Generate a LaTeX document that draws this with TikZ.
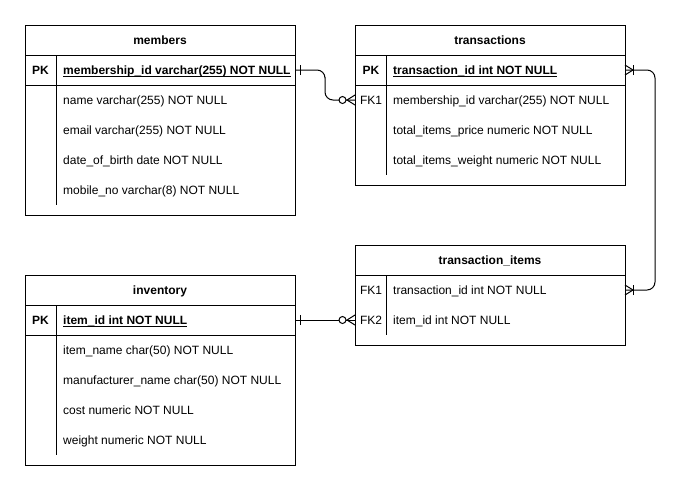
\documentclass[tikz,border=0pt]{standalone}
\usepackage{fontspec}
\setmainfont{Liberation Sans}
\usetikzlibrary{calc}
\begin{document}
\begin{tikzpicture}[x=1pt,y=-1pt,
  tbl/.style={draw, line width=1pt, fill=white, inner sep=0pt, outer sep=0pt},
  rowbox/.style={inner sep=0pt, outer sep=0pt, minimum height=30pt, minimum width=270pt},
  ttl/.style={font=\fontsize{12}{14}\selectfont\bfseries, inner sep=0pt, text height=8.6pt, text depth=0pt},
  keylbl/.style={font=\fontsize{12}{14}\selectfont, inner sep=0pt, text height=8.6pt, text depth=0pt},
  keybold/.style={keylbl, font=\fontsize{12}{14}\selectfont\bfseries},
  fld/.style={font=\fontsize{12}{14}\selectfont, anchor=west, inner sep=0pt, text height=8.6pt, text depth=0pt},
  fldpk/.style={fld, font=\fontsize{12}{14}\selectfont\bfseries},
  sep/.style={line width=1pt},
  conn/.style={line width=1pt, rounded corners=8pt},
  mk/.style={line width=1pt}]
\useasboundingbox[fill=white] (0,0) rectangle (690,491);

% ---------- members ----------
\node[tbl, minimum width=270pt, minimum height=190pt] (members) at (160,120) {};
\draw[sep] (25,55) -- (295,55);
\draw[sep] (25,85) -- (295,85);
\draw[sep] (56,55) -- (56,205);
\node[ttl] (mtitle) at (160,40) {members};
\node[keybold] (mpkl) at (40.5,70) {PK};
\node[fldpk] (mpkf) at (63,70) {membership\_id varchar(255) NOT NULL};
\draw[line width=0.8pt] ([yshift=-1.6pt]mpkf.south west) -- ([yshift=-1.6pt]mpkf.south east);
\node[fld] (mf1) at (63,100) {name varchar(255) NOT NULL};
\node[fld] (mf2) at (63,130) {email varchar(255) NOT NULL};
\node[fld] (mf3) at (63,160) {date\_of\_birth date NOT NULL};
\node[fld] (mf4) at (63,190) {mobile\_no varchar(8) NOT NULL};
\node[rowbox] (mpk) at (160,70) {};

% ---------- transactions ----------
\node[tbl, minimum width=270pt, minimum height=160pt] (transactions) at (490,105) {};
\draw[sep] (355,55) -- (625,55);
\draw[sep] (355,85) -- (625,85);
\draw[sep] (386,55) -- (386,175);
\node[ttl] (ttitle) at (490,40) {transactions};
\node[keybold] (tpkl) at (371,70) {PK};
\node[fldpk] (tpkf) at (393,70) {transaction\_id int NOT NULL};
\draw[line width=0.8pt] ([yshift=-1.6pt]tpkf.south west) -- ([yshift=-1.6pt]tpkf.south east);
\node[keylbl] (tfk1l) at (371,100) {FK1};
\node[fld] (tf1) at (393,100) {membership\_id varchar(255) NOT NULL};
\node[fld] (tf2) at (393,130) {total\_items\_price numeric NOT NULL};
\node[fld] (tf3) at (393,160) {total\_items\_weight numeric NOT NULL};
\node[rowbox] (tpk) at (490,70) {};
\node[rowbox] (tfk1) at (490,100) {};

% ---------- transaction_items ----------
\node[tbl, minimum width=270pt, minimum height=100pt] (titems) at (490,295) {};
\draw[sep] (355,275) -- (625,275);
\draw[sep] (386,275) -- (386,335);
\node[ttl] (tititle) at (490,260) {transaction\_items};
\node[keylbl] (tifk1l) at (371,290) {FK1};
\node[fld] (tif1) at (393,290) {transaction\_id int NOT NULL};
\node[keylbl] (tifk2l) at (371,320) {FK2};
\node[fld] (tif2) at (393,320) {item\_id int NOT NULL};
\node[rowbox] (tifk1) at (490,290) {};
\node[rowbox] (tifk2) at (490,320) {};

% ---------- inventory ----------
\node[tbl, minimum width=270pt, minimum height=190pt] (inventory) at (160,370) {};
\draw[sep] (25,305) -- (295,305);
\draw[sep] (25,335) -- (295,335);
\draw[sep] (56,305) -- (56,455);
\node[ttl] (ititle) at (160,290) {inventory};
\node[keybold] (ipkl) at (40.5,320) {PK};
\node[fldpk] (ipkf) at (63,320) {item\_id int NOT NULL};
\draw[line width=0.8pt] ([yshift=-1.6pt]ipkf.south west) -- ([yshift=-1.6pt]ipkf.south east);
\node[fld] (if1) at (63,350) {item\_name char(50) NOT NULL};
\node[fld] (if2) at (63,380) {manufacturer\_name char(50) NOT NULL};
\node[fld] (if3) at (63,410) {cost numeric NOT NULL};
\node[fld] (if4) at (63,440) {weight numeric NOT NULL};
\node[rowbox] (ipk) at (160,320) {};

% ---------- connectors ----------
% members.membership_id -> transactions.FK1
\draw[conn] (mpk.east) -| ($(mpk.east)!0.5!(tfk1.west)$) |- (tfk1.west);
\draw[mk] ([xshift=5pt,yshift=-5pt]mpk.east) -- ([xshift=5pt,yshift=5pt]mpk.east);
\draw[mk] ([yshift=-5pt]tfk1.west) -- ([xshift=-8pt]tfk1.west) -- ([yshift=5pt]tfk1.west);
\draw[mk, fill=white] ([xshift=-12.5pt]tfk1.west) circle[radius=3.5pt];

% inventory.item_id -> transaction_items.FK2
\draw[conn] (ipk.east) -- (tifk2.west);
\draw[mk] ([xshift=5pt,yshift=-5pt]ipk.east) -- ([xshift=5pt,yshift=5pt]ipk.east);
\draw[mk] ([yshift=-5pt]tifk2.west) -- ([xshift=-8pt]tifk2.west) -- ([yshift=5pt]tifk2.west);
\draw[mk, fill=white] ([xshift=-12.5pt]tifk2.west) circle[radius=3.5pt];

% transactions.transaction_id -> transaction_items.FK1
\draw[conn] (tpk.east) -- ++(30,0) |- (tifk1.east);
\draw[mk] ([yshift=-5pt]tpk.east) -- ([xshift=8pt]tpk.east) -- ([yshift=5pt]tpk.east);
\draw[mk] ([xshift=8pt,yshift=-5pt]tpk.east) -- ([xshift=8pt,yshift=5pt]tpk.east);
\draw[mk] ([yshift=-5pt]tifk1.east) -- ([xshift=8pt]tifk1.east) -- ([yshift=5pt]tifk1.east);
\draw[mk] ([xshift=8pt,yshift=-5pt]tifk1.east) -- ([xshift=8pt,yshift=5pt]tifk1.east);
\end{tikzpicture}
\end{document}
